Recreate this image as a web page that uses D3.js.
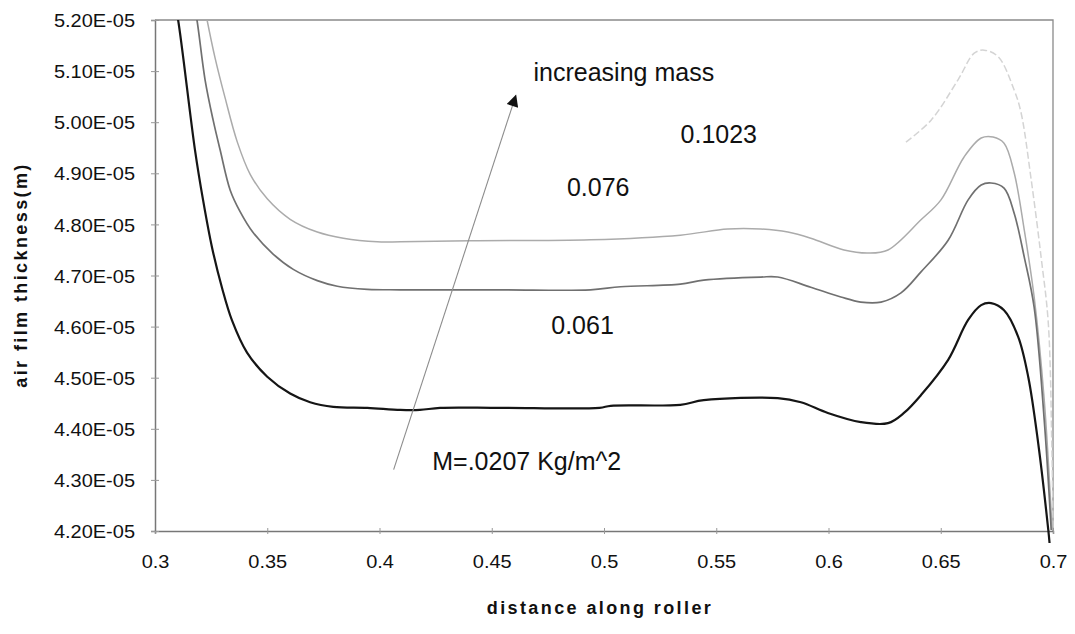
<!DOCTYPE html>
<html lang="en">
<head>
<meta charset="UTF-8">
<title>air film thickness</title>
<script src="https://d3js.org/d3.v7.min.js"></script>
<style>
    body { margin: 0; background: #fff; }
    svg { display: block; font-family: "Liberation Sans", Arial, sans-serif; }
    .tick-label { font-size: 18.5px; fill: #111; }
    .note { font-size: 25px; fill: #111; }
    .axis-title { font-size: 18px; font-weight: bold; fill: #111; letter-spacing: 2.4px; }
</style>
</head>
<body>
<div id="chart"></div>
<script>
// thickness values are in units of 1E-05 m
const xTicks = [0.3, 0.35, 0.4, 0.45, 0.5, 0.55, 0.6, 0.65, 0.7];
const yTicks = [4.2, 4.3, 4.4, 4.5, 4.6, 4.7, 4.8, 4.9, 5.0, 5.1, 5.2];

const massLabels = ["M=.0207 Kg/m^2", "0.061", "0.076", "0.1023"];

const dist0207 = [0.3085, 0.3103, 0.3178, 0.3214, 0.3254, 0.3299, 0.3343, 0.341, 0.35, 0.3602, 0.3691, 0.3794, 0.3946, 0.4093, 0.418, 0.427, 0.454, 0.498, 0.503, 0.534, 0.5444, 0.5774, 0.5877, 0.5997, 0.6144, 0.6265, 0.6336, 0.6412, 0.6533, 0.6622, 0.668, 0.6724, 0.6782, 0.6845, 0.689, 0.6934, 0.6979, 0.6985];
const film0207 = [5.24, 5.2, 4.946, 4.848, 4.755, 4.675, 4.612, 4.549, 4.502, 4.469, 4.452, 4.443, 4.441, 4.437, 4.437, 4.441, 4.441, 4.441, 4.445, 4.447, 4.456, 4.46, 4.452, 4.431, 4.413, 4.411, 4.431, 4.466, 4.535, 4.613, 4.642, 4.646, 4.632, 4.58, 4.501, 4.372, 4.202, 4.175];

const dist061 = [0.317, 0.3187, 0.3223, 0.3259, 0.329, 0.3335, 0.3379, 0.3437, 0.3526, 0.3616, 0.3723, 0.3812, 0.3946, 0.4093, 0.4539, 0.494, 0.5074, 0.534, 0.5444, 0.5698, 0.5774, 0.5921, 0.6055, 0.6144, 0.6234, 0.6323, 0.6412, 0.6533, 0.6622, 0.668, 0.6724, 0.6782, 0.6827, 0.6872, 0.6916, 0.6961, 0.6992];
const film061 = [5.24, 5.2, 5.083, 5.004, 4.946, 4.867, 4.825, 4.784, 4.742, 4.712, 4.69, 4.679, 4.673, 4.672, 4.672, 4.672, 4.678, 4.683, 4.691, 4.697, 4.697, 4.677, 4.658, 4.648, 4.648, 4.666, 4.707, 4.769, 4.848, 4.877, 4.881, 4.871, 4.822, 4.736, 4.638, 4.417, 4.202];

const dist076 = [0.3215, 0.3232, 0.3268, 0.3312, 0.3366, 0.3424, 0.35, 0.3602, 0.3723, 0.3839, 0.399, 0.4093, 0.4405, 0.494, 0.534, 0.5551, 0.5698, 0.5819, 0.5921, 0.6069, 0.6176, 0.6265, 0.6412, 0.6501, 0.6604, 0.668, 0.6733, 0.6782, 0.6827, 0.6872, 0.6916, 0.6961, 0.6996];
const film076 = [5.24, 5.2, 5.125, 5.048, 4.962, 4.898, 4.85, 4.81, 4.785, 4.773, 4.766, 4.766, 4.768, 4.77, 4.779, 4.791, 4.791, 4.785, 4.773, 4.75, 4.744, 4.75, 4.809, 4.848, 4.932, 4.969, 4.971, 4.959, 4.901, 4.789, 4.658, 4.456, 4.202];

// only the right-hand part of the lightest curve shows in the scan
const dist1023 = [0.6345, 0.6457, 0.6577, 0.6649, 0.6693, 0.6756, 0.6827, 0.6858, 0.6903, 0.6947, 0.6979, 0.6995, 0.7];
const film1023 = [4.961, 5.004, 5.083, 5.135, 5.141, 5.128, 5.063, 5.018, 4.887, 4.736, 4.607, 4.359, 4.202];

// arrow marking the direction of increasing mass: [distance, thickness]
const arrowFrom = [0.4063, 4.32];
const arrowTo = [0.4607, 5.052];

const series = [
    { label: massLabels[0], x: dist0207, y: film0207, color: "#151515", width: 2.2, dash: null },
    { label: massLabels[1], x: dist061, y: film061, color: "#707070", width: 1.7, dash: null },
    { label: massLabels[2], x: dist076, y: film076, color: "#ababab", width: 1.5, dash: null },
    { label: massLabels[3], x: dist1023, y: film1023, color: "#d4d4d4", width: 1.5, dash: "7,3" }
];

const W = 1075, H = 634;
const margin = { left: 155, right: 22, top: 20, bottom: 103 };

const svg = d3.select("#chart").append("svg")
    .attr("width", W)
    .attr("height", H);

const x = d3.scaleLinear().domain([0.3, 0.7]).range([margin.left, W - margin.right]);
const y = d3.scaleLinear().domain([4.2, 5.2]).range([H - margin.bottom, margin.top]);

svg.append("clipPath").attr("id", "clip")
    .append("rect")
    .attr("x", margin.left)
    .attr("y", margin.top)
    .attr("width", W - margin.left - margin.right + 2)
    .attr("height", H - margin.top - margin.bottom + 12);

// frame (top and right edges)
svg.append("path")
    .attr("d", `M${x(0.3)},${y(5.2)}H${x(0.7)}V${y(4.2)}`)
    .attr("fill", "none")
    .attr("stroke", "#8a8a8a")
    .attr("stroke-width", 1.3);

// axes
const xAxis = d3.axisBottom(x).tickValues(xTicks).tickFormat(d3.format("")).tickSize(3).tickPadding(21);
const yAxis = d3.axisLeft(y).tickValues(yTicks).tickFormat(d => d.toFixed(2) + "E-05").tickSize(4).tickPadding(16);

const gx = svg.append("g").attr("transform", `translate(0,${y(4.2)})`).call(xAxis);
const gy = svg.append("g").attr("transform", `translate(${x(0.3)},0)`).call(yAxis);

[gx, gy].forEach(g => {
    g.select(".domain").attr("stroke", "#777").attr("stroke-width", 1.5);
    g.selectAll(".tick line").attr("stroke", "#999");
    g.selectAll(".tick text").attr("class", "tick-label").attr("font-family", null).attr("font-size", null);
});
gx.selectAll(".tick line").attr("y1", -3);
gy.selectAll(".tick line").attr("x1", 4).attr("x2", -4);
gy.selectAll(".tick text").attr("dy", "0.36em");

// the scanned labels are a little wider than Arial at the same height
svg.selectAll(".tick-label").each(function() {
    const w = this.getComputedTextLength();
    d3.select(this).attr("textLength", w * 1.08).attr("lengthAdjust", "spacingAndGlyphs");
});

// curves
const line = d3.line()
    .x(d => x(d[0]))
    .y(d => y(d[1]))
    .curve(d3.curveCatmullRom.alpha(0.5));

const plot = svg.append("g").attr("clip-path", "url(#clip)");

series.slice().reverse().forEach(s => {
    plot.append("path")
        .datum(s.x.map((v, i) => [v, s.y[i]]))
        .attr("d", line)
        .attr("fill", "none")
        .attr("stroke", s.color)
        .attr("stroke-width", s.width)
        .attr("stroke-dasharray", s.dash)
        .attr("stroke-linejoin", "round");
});

// arrow
const defs = svg.append("defs");
defs.append("marker")
    .attr("id", "head")
    .attr("viewBox", "0 0 10 10")
    .attr("refX", 9).attr("refY", 5)
    .attr("markerWidth", 24).attr("markerHeight", 12)
    .attr("markerUnits", "userSpaceOnUse")
    .attr("orient", "auto")
    .append("path")
    .attr("d", "M0,0L10,5L0,10Z")
    .attr("fill", "#111");

svg.append("line")
    .attr("x1", x(arrowFrom[0])).attr("y1", y(arrowFrom[1]))
    .attr("x2", x(arrowTo[0])).attr("y2", y(arrowTo[1]))
    .attr("stroke", "#8c8c8c")
    .attr("stroke-width", 1.1)
    .attr("marker-end", "url(#head)");

// annotations
const notes = [
    { text: "increasing mass", d: 0.4686, t: 5.08 },
    { text: massLabels[3], d: 0.5341, t: 4.96 },
    { text: massLabels[2], d: 0.4835, t: 4.855 },
    { text: massLabels[1], d: 0.4765, t: 4.585 },
    { text: massLabels[0], d: 0.4235, t: 4.32 }
];
svg.selectAll("text.note")
    .data(notes)
    .enter().append("text")
    .attr("class", "note")
    .attr("x", d => x(d.d))
    .attr("y", d => y(d.t))
    .text(d => d.text);

// axis titles
svg.append("text")
    .attr("class", "axis-title")
    .attr("text-anchor", "middle")
    .attr("x", 600)
    .attr("y", 614)
    .text("distance along roller");

svg.append("text")
    .attr("class", "axis-title")
    .attr("text-anchor", "middle")
    .attr("transform", "translate(27,275) rotate(-90)")
    .text("air film thickness(m)");
</script>
</body>
</html>
